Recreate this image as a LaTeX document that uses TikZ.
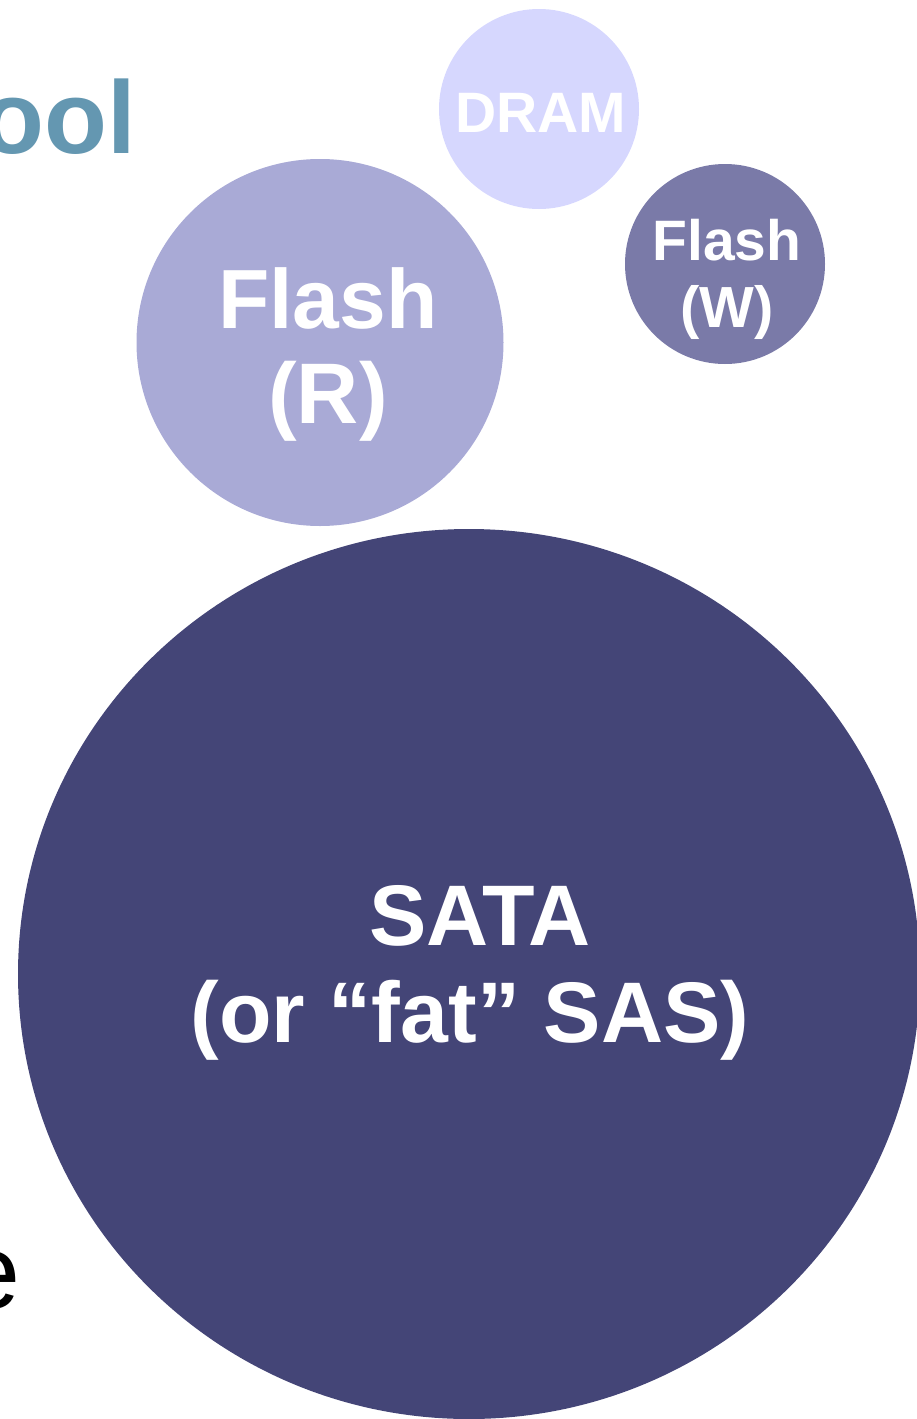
\documentclass[tikz,border=0pt]{standalone}
\usepackage{fontspec}
\setmainfont{Liberation Sans}
\usetikzlibrary{shapes.geometric}
\definecolor{dramcol}{HTML}{D6D7FE}
\definecolor{flashr}{HTML}{A9AAD6}
\definecolor{flashw}{HTML}{7A7AA8}
\definecolor{satacol}{HTML}{444577}
\definecolor{titlecol}{HTML}{6497B1}
\tikzset{
  bubble/.style={circle, inner sep=0pt, draw=none},
  lbl/.style={anchor=base, inner sep=0pt, text=white, font=\bfseries},
}
\newcommand{\fsz}[1]{\fontsize{#1}{#1}\selectfont}
\begin{document}
\begin{tikzpicture}[x=1pt,y=-1pt]
\useasboundingbox (0,0) rectangle (916,1419);
% bubbles
\node[bubble, fill=dramcol, minimum size=200pt] (dram) at (539,109) {};
\node[bubble, fill=flashw, minimum size=200pt] (flw) at (725,264) {};
\node[bubble, fill=flashr, minimum size=367pt] (flr) at (320,342.5) {};
\node[ellipse, inner sep=0pt, fill=satacol, minimum width=902pt, minimum height=890pt] (sata) at (469,974) {};
% labels
\node[lbl, font=\bfseries\fsz{57}] (dramt) at (541,132) {DRAM};
\node[lbl, font=\bfseries\fsz{57}] (flwa) at (727,260) {Flash};
\node[lbl, font=\bfseries\fsz{58}] (flwb) at (727,327) {(W)};
\node[lbl, font=\bfseries\fsz{84}] (flra) at (328,328) {Flash};
\node[lbl, font=\bfseries\fsz{86}] (flrb) at (328,423) {(R)};
\node[lbl, font=\bfseries\fsz{86}] (sataa) at (480,945) {SATA};
\node[lbl, font=\bfseries\fsz{86}] (satab) at (470,1042) {(or “fat” SAS)};
% cut-off texts
\node[anchor=base east, inner sep=0pt, text=titlecol, font=\bfseries\fsz{103}] (title) at (136,153) {ool};
\node[anchor=base east, inner sep=0pt, text=black, font=\fsz{106}] (body) at (21,1308) {e};
\end{tikzpicture}
\end{document}
